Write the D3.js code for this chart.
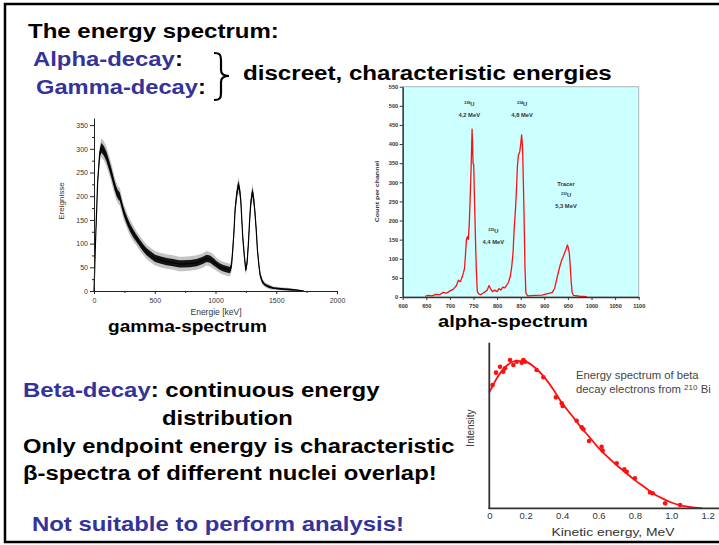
<!DOCTYPE html>
<html>
<head>
<meta charset="utf-8">
<script src="https://cdn.jsdelivr.net/npm/d3@7"></script>
<style>
html, body { margin:0; padding:0; background:#fff; }
svg { display:block; font-family:"Liberation Sans", Arial, Helvetica, sans-serif; }
</style>
</head>
<body>
<svg id="slide" width="719" height="545"></svg>
<script>
(function(){
"use strict";

// gamma spectrum: [Energie keV, Ereignisse, noise half-width]
const gammaSpectrum = [
  [0,0,1],[5,40,2],[12,100,3],[19,150,4],[30,230,6],[47,290,10],[60,302,12],[80,296,12],
  [102,284,12],[125,265,12],[143,249,12],[170,222,11],[185,210,11],[198,203,11],[212,199,11],
  [225,186,10],[240,171,10],[260,156,10],[280,143,10],[300,132,10],[322,122,10],[350,111,9],
  [377,101,9],[405,91,9],[432,83,9],[470,75,9],[503,69,9],[550,65,9],[597,62,9],[650,60,9],
  [700,57,9],[735,57,9],[790,58,9],[845,60,9],[890,64,9],[927,69,9],[955,67,9],[982,62,9],
  [1010,56,8],[1037,51,8],[1065,48,8],[1092,46,8],[1120,44,8],[1132,55,8],[1142,87,8],
  [1152,125,8],[1161,171,8],[1175,205,9],[1188,224,10],[1198,215,9],[1208,192,8],[1224,115,7],
  [1237,75,6],[1249,44,6],[1260,60,6],[1271,101,7],[1280,145,8],[1290,185,9],[1304,210,10],
  [1314,195,9],[1323,171,8],[1335,130,7],[1345,87,6],[1357,55,5],[1367,34,5],[1385,20,4],
  [1408,13,3],[1440,9,3],[1477,6,2],[1520,5,2],[1560,4,2],[1620,3,2],[1670,2,1],[1725,0,1]
];
const gammaXTicks = [0, 500, 1000, 1500, 2000];
const gammaXMinor = [250, 750, 1250, 1750];
const gammaYTicks = [0, 50, 100, 150, 200, 250, 300, 350];
const gammaYMinor = [25, 75, 125, 175, 225, 275, 325];

// alpha spectrum: [channel, counts per channel]
const alphaSpectrum = [
  [648,2],[655,4],[662,3],[670,7],[678,6],[686,12],[693,10],[700,16],[707,20],[714,30],
  [718,44],[722,40],[726,52],[729,65],[731,75],[733,110],[735,150],[737,158],[739,150],
  [741,190],[743,260],[745,340],[747,439],[748,400],[749,350],[750.5,345],[752,260],[754,160],
  [756,70],[758,15],[761,8],[765,6],[770,10],[775,14],[779,18],[783,30],[786,22],[790,14],
  [795,18],[800,14],[804,22],[808,18],[812,26],[816,24],[820,30],[824,38],[828,55],[831,79],
  [834,120],[836,175],[839,230],[841,280],[843,340],[845,370],[848,380],[850,400],[852,424],
  [854,390],[856,280],[857,220],[859,80],[861,10],[865,3],[880,4],[895,5],[905,8],[912,10],
  [917,12],[922,23],[926,45],[930,66],[934,85],[937,97],[940,105],[943,115],[946,125],
  [949,136],[951,128],[953,115],[955,80],[957,40],[959,12],[962,4],[975,2],[990,1]
];
const alphaXTicks = [600, 650, 700, 750, 800, 850, 900, 950, 1000, 1050, 1100];
const alphaYTicks = [0, 50, 100, 150, 200, 250, 300, 350, 400, 450, 500, 550];
// peak labels: [channel, counts, mass number, energy line, extra top line]
const alphaLabels = [
  [741, 505, "238", "4,2 MeV", null],
  [853, 505, "234", "4,8 MeV", null],
  [792, 172, "235", "4,4 MeV", null],
  [946, 268, "232", "5,3 MeV", "Tracer"]
];

// beta spectrum of 210Bi
const betaCurveEnergy = [0, 0.05, 0.1, 0.15, 0.2, 0.25, 0.3, 0.35, 0.4, 0.45, 0.5, 0.55, 0.6,
  0.65, 0.7, 0.75, 0.8, 0.85, 0.9, 0.95, 1.0, 1.05, 1.1, 1.15, 1.17];
const betaCurveIntensity = [0.70, 0.80, 0.865, 0.89, 0.885, 0.85, 0.795, 0.72, 0.635, 0.565,
  0.495, 0.43, 0.365, 0.31, 0.26, 0.215, 0.17, 0.13, 0.09, 0.06, 0.035, 0.018, 0.008, 0.002, 0];
const betaDotEnergy = [0.018, 0.037, 0.059, 0.077, 0.086, 0.114, 0.132, 0.150, 0.178, 0.187,
  0.196, 0.26, 0.297, 0.366, 0.398, 0.403, 0.48, 0.508, 0.517, 0.548, 0.617, 0.623, 0.70,
  0.742, 0.755, 0.80, 0.883, 0.898, 0.966, 1.048];
const betaDotIntensity = [0.744, 0.819, 0.855, 0.825, 0.845, 0.895, 0.865, 0.885, 0.879, 0.895,
  0.885, 0.835, 0.791, 0.67, 0.634, 0.618, 0.529, 0.489, 0.477, 0.406, 0.372, 0.348, 0.272,
  0.235, 0.221, 0.181, 0.095, 0.091, 0.03, 0.02];
const betaXTicks = [0, 0.2, 0.4, 0.6, 0.8, 1.0, 1.2];

const BLUE = "#333399";
const RED = "#ff1010";
const svg = d3.select("#slide");

// stretch a text horizontally to a measured width, around its anchor x
function fit(sel, w){
  let bb = sel.node().getBBox();
  let k = w / bb.width;
  let ax = +sel.attr("x") || 0;
  sel.attr("transform", `translate(${ax},0) scale(${k},1) translate(${-ax},0)`);
}

function slideText(parent, x, y, parts, opt){
  let t = parent.append("text").attr("x", x).attr("y", y)
    .attr("font-size", opt.size)
    .attr("font-weight", opt.weight || "bold")
    .attr("fill", opt.fill || "#000")
    .attr("text-anchor", opt.anchor || "start");
  parts.forEach(p => {
    let s = t.append("tspan").text(p[0]);
    if(p[1]) s.attr("fill", p[1]);
    if(p[2]) s.attr("font-size", p[2]).attr("baseline-shift", "super");
  });
  if(opt.width) fit(t, opt.width);
  return t;
}

svg.append("rect").attr("width", 719).attr("height", 545).attr("fill", "#fff");
svg.append("rect").attr("x", 5).attr("y", 4).attr("width", 730).attr("height", 538)
  .attr("fill", "none").attr("stroke", "#000").attr("stroke-width", 2.5);

// ---- slide text ----
slideText(svg, 28, 38, [["The energy spectrum:"]], {size:21, width:251});
slideText(svg, 33, 66, [["Alpha-decay", BLUE], [":"]], {size:21, width:150});
slideText(svg, 36, 94, [["Gamma-decay", BLUE], [":"]], {size:21, width:170});
slideText(svg, 243, 80, [["discreet, characteristic energies"]], {size:21, width:369});
svg.append("path")
  .attr("d", "M214,53 C220,53 221,55 221,60 L221,70 C221,74 223,76 229,76 C223,76 221,78 221,82 L221,93 C221,98 220,100 214,100")
  .attr("fill", "none").attr("stroke", "#000").attr("stroke-width", 2.2);

slideText(svg, 23, 397.5, [["Beta-decay", BLUE], [": continuous energy"]], {size:21, width:357});
slideText(svg, 162, 425, [["distribution"]], {size:21, width:131});
slideText(svg, 23, 453, [["Only endpoint energy is characteristic"]], {size:21, width:432});
slideText(svg, 23, 480, [["\u03b2-spectra of different nuclei overlap!"]], {size:21, width:414});
slideText(svg, 32, 531, [["Not suitable to perform analysis!", BLUE]], {size:21, width:372});

// ---- gamma spectrum ----
function drawGamma(){
  let x = d3.scaleLinear().domain([0, 2000]).range([94, 337]);
  let y = d3.scaleLinear().domain([0, 365]).range([291, 118]);
  let g = svg.append("g");

  let band = k => d3.area()
    .x(d => x(d[0]))
    .y0(d => y(Math.max(0, d[1] - k * d[2])))
    .y1(d => y(d[1] + k * d[2]));
  g.append("path").datum(gammaSpectrum).attr("d", band(1.7)).attr("fill", "#c4c4c4");
  g.append("path").datum(gammaSpectrum).attr("d", band(0.85)).attr("fill", "#151515");
  g.append("path").datum(gammaSpectrum)
    .attr("d", d3.line().x(d => x(d[0])).y(d => y(d[1])))
    .attr("fill", "none").attr("stroke", "#000").attr("stroke-width", 1.2);

  let yAxis = g.append("g").attr("transform", `translate(${x.range()[0]},0)`)
    .call(d3.axisLeft(y).tickValues(gammaYTicks).tickSize(4).tickSizeOuter(0).tickPadding(2));
  g.append("g").attr("transform", `translate(${x.range()[0]},0)`)
    .call(d3.axisLeft(y).tickValues(gammaYMinor).tickSize(2).tickFormat(""))
    .select(".domain").remove();
  let xAxis = g.append("g").attr("transform", `translate(0,${y.range()[0]})`)
    .call(d3.axisBottom(x).tickValues(gammaXTicks).tickSize(3).tickSizeOuter(0).tickPadding(4)
      .tickFormat(d3.format("d")));
  g.append("g").attr("transform", `translate(0,${y.range()[0]})`)
    .call(d3.axisBottom(x).tickValues(gammaXMinor).tickSize(2).tickFormat(""))
    .select(".domain").remove();
  [yAxis, xAxis].forEach(a => {
    a.selectAll("text").attr("font-size", 7).attr("fill", "#333")
      .attr("font-family", "'Liberation Sans', Arial, sans-serif");
  });
  g.selectAll(".domain, .tick line").attr("stroke", "#222");

  g.append("text").attr("transform", "translate(61,201) rotate(-90)")
    .attr("text-anchor", "middle").attr("dy", "0.35em")
    .attr("font-size", 8).attr("fill", "#333").text("Ereignisse");
  g.append("text").attr("x", (x(0) + x(2000)) / 2 + 0.5).attr("y", 315)
    .attr("text-anchor", "middle").attr("font-size", 8.5).attr("fill", "#333").text("Energie [keV]");
  slideText(svg, 187.5, 332, [["gamma-spectrum"]], {size:17, width:159, anchor:"middle"});
}

// ---- alpha spectrum ----
function drawAlpha(){
  let x = d3.scaleLinear().domain([600, 1100]).range([402.7, 638.7]);
  let y = d3.scaleLinear().domain([0, 550]).range([297, 86.7]);
  let g = svg.append("g");

  g.append("rect")
    .attr("x", x(600)).attr("y", y(550))
    .attr("width", x(1100) - x(600)).attr("height", y(0) - y(550))
    .attr("fill", "#ccffff").attr("stroke", "#a8b8b8").attr("stroke-width", 1);

  g.append("path").datum(alphaSpectrum)
    .attr("d", d3.line().x(d => x(d[0])).y(d => y(d[1])))
    .attr("fill", "none").attr("stroke", RED).attr("stroke-width", 1.3)
    .attr("stroke-linejoin", "round");

  let yAxis = g.append("g").attr("transform", `translate(${x(600)},0)`)
    .call(d3.axisLeft(y).tickValues(alphaYTicks).tickSize(3).tickSizeOuter(0).tickPadding(1.5));
  let xAxis = g.append("g").attr("transform", `translate(0,${y(0)})`)
    .call(d3.axisBottom(x).tickValues(alphaXTicks).tickSize(3).tickSizeOuter(0).tickPadding(4)
      .tickFormat(d3.format("d")));
  [yAxis, xAxis].forEach(a => {
    a.selectAll("text").attr("font-size", 5.6).attr("font-weight", "bold").attr("fill", "#333")
      .attr("font-family", "'Liberation Sans', Arial, sans-serif");
    a.selectAll(".domain").attr("stroke", "#333").attr("stroke-width", 1.4);
    a.selectAll(".tick line").attr("stroke", "#333");
  });

  let t = g.append("g").attr("transform", "translate(376.5,191.5) rotate(-90)");
  let lab = t.append("text").attr("x", 0).attr("y", 0).attr("dy", "0.35em")
    .attr("text-anchor", "middle").attr("font-size", 6).attr("font-weight", "bold")
    .attr("fill", "#333").text("Count per channel");
  fit(lab, 62);

  alphaLabels.forEach(l => {
    let cx = x(l[0]), cy = y(l[1]);
    if(l[4]){
      slideText(g, cx, cy - 9, [[l[4]]], {size:5.8, anchor:"middle", fill:"#333"});
    }
    slideText(g, cx, cy + 2, [[l[2], null, 3.6], ["U"]], {size:5.8, anchor:"middle", fill:"#333"});
    slideText(g, cx, cy + 13, [[l[3]]], {size:5.8, anchor:"middle", fill:"#333"});
  });

  slideText(svg, 513, 327.5, [["alpha-spectrum"]], {size:17, width:150, anchor:"middle"});
}

// ---- beta spectrum ----
function drawBeta(){
  let x = d3.scaleLinear().domain([0, 1.2]).range([489.3, 707.7]);
  let y = d3.scaleLinear().domain([0, 1]).range([508.3, 342.7]);
  let g = svg.append("g");

  let curve = betaCurveEnergy.map((e, i) => [e, betaCurveIntensity[i]]);
  g.append("path").datum(curve)
    .attr("d", d3.line().curve(d3.curveMonotoneX).x(d => x(d[0])).y(d => y(d[1])))
    .attr("fill", "none").attr("stroke", RED).attr("stroke-width", 1.8);

  g.selectAll("circle.dot").data(betaDotEnergy).enter().append("circle")
    .attr("class", "dot")
    .attr("cx", d => x(d))
    .attr("cy", (d, i) => y(betaDotIntensity[i]))
    .attr("r", 2.3).attr("fill", RED);

  // axes
  g.append("line").attr("x1", x(0)).attr("x2", x(0)).attr("y1", y(1)).attr("y2", y(0))
    .attr("stroke", "#333").attr("stroke-width", 1.8);
  g.append("line").attr("x1", x(0) - 1).attr("x2", 719).attr("y1", y(0)).attr("y2", y(0))
    .attr("stroke", "#333").attr("stroke-width", 1.8);
  let xAxis = g.append("g").attr("transform", `translate(0,${y(0)})`)
    .call(d3.axisBottom(x).tickValues(betaXTicks).tickSize(0).tickPadding(4)
      .tickFormat(d => d === 0 ? "0" : d3.format(".1f")(d)));
  xAxis.select(".domain").remove();
  xAxis.selectAll("text").attr("font-size", 9.5).attr("fill", "#333")
    .attr("font-family", "'Liberation Sans', Arial, sans-serif");

  slideText(g, 613, 536, [["Kinetic energy, MeV"]], {size:11, weight:"normal", fill:"#333", anchor:"middle", width:124});
  let t = g.append("g").attr("transform", "translate(470,428) rotate(-90)");
  t.append("text").attr("text-anchor", "middle").attr("dy", "0.35em")
    .attr("font-size", 10).attr("fill", "#333").text("Intensity");

  slideText(g, 576, 378.5, [["Energy spectrum of beta"]], {size:10.5, weight:"normal", fill:"#444", width:123});
  slideText(g, 576, 393.5, [["decay electrons from "], ["210", null, 7.5], [" Bi"]], {size:10.5, weight:"normal", fill:"#444", width:135});
}

drawGamma();
drawAlpha();
drawBeta();

})();
</script>
</body>
</html>
